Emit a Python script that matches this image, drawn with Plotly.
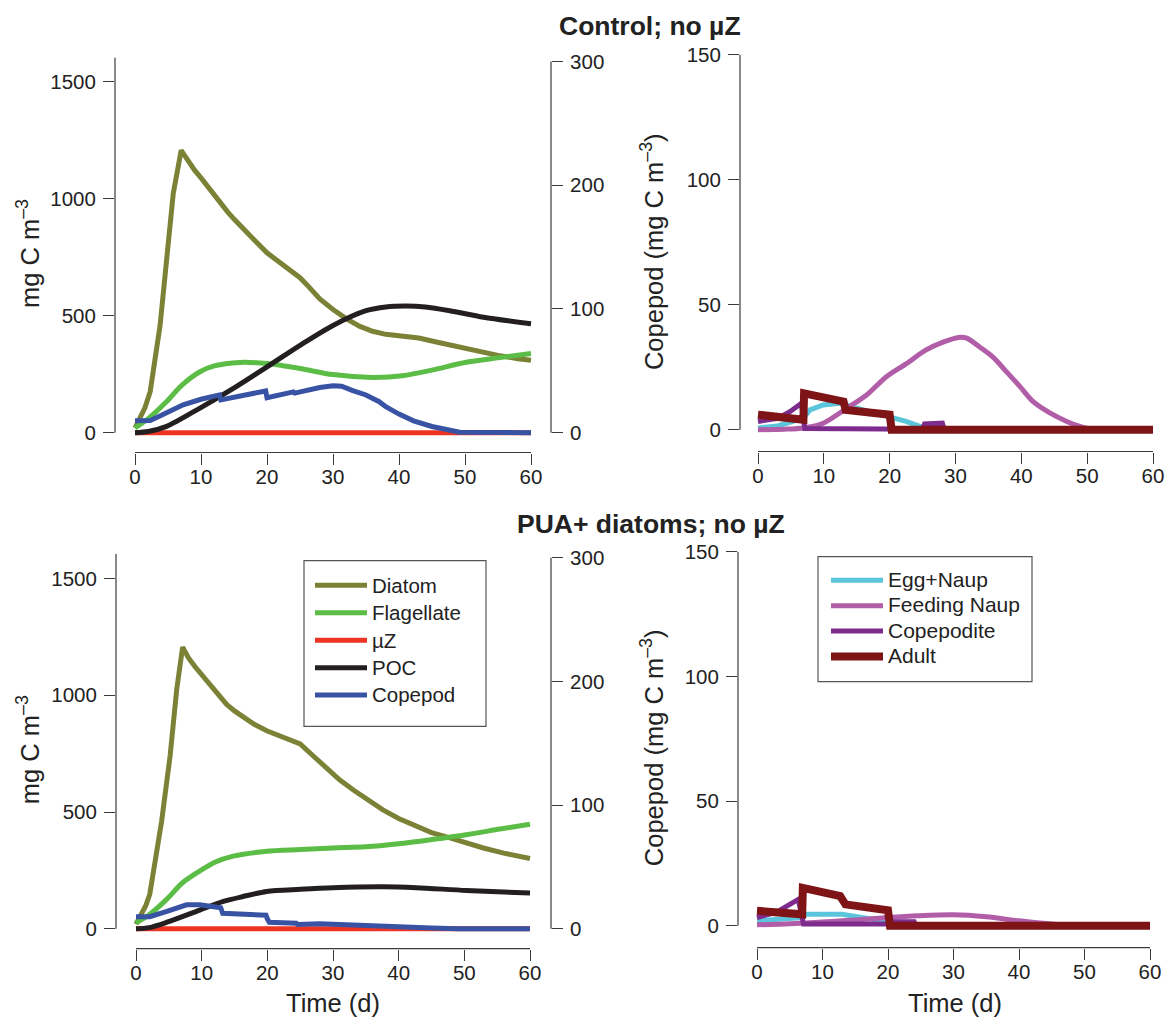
import plotly.graph_objects as go

# ---- data (time in days) ----
# Control; no uZ  -- bulk pools (mg C m-3), copepod total on the right axis
ctl_diatom_t = [0, 0.8, 1.5, 2.3, 3, 3.8, 4.8, 5.8, 7, 8, 9, 10, 11, 12, 13, 14, 15, 16, 18, 20, 22, 24,
                25, 26, 28, 30, 32, 34, 36, 38, 40, 43, 46, 49, 52, 55, 58, 60]
ctl_diatom = [20, 63, 106, 175, 300, 458, 741, 1022, 1206, 1162, 1122, 1088, 1050, 1012, 975, 944, 912, 881,
              825, 768, 725, 686, 662, 633, 571, 526, 487, 455, 433, 420, 413, 404, 385, 366, 348, 330, 316, 309]
ctl_flag_t = [0, 2, 4.8, 7, 9.85, 12, 15.9, 20, 25, 30, 36, 40.5, 45, 50, 55, 60]
ctl_flag = [20, 60, 133, 200, 260, 285, 300, 295, 274, 248, 236, 243, 267, 300, 320, 338]
ctl_uz_t = [0, 60]
ctl_uz = [0, 0]
ctl_poc_t = [0, 2, 4.8, 9.85, 14.9, 20, 25, 30, 35, 38, 41, 44, 47.7, 52.8, 60]
ctl_poc = [0, 5, 27, 105, 189, 281, 373, 458, 521, 537, 541, 537, 521, 493, 465]
ctl_cop_t = [0, 2.3, 4, 7.3, 10, 12.8, 13, 16, 19.8, 20, 24, 24.2, 27.8, 28, 30, 31.3, 33, 35, 37, 38, 40, 42.2, 45, 47, 49.2, 60]
ctl_cop = [9.6, 9.9, 14, 22.5, 27, 30.5, 26.5, 29.5, 33.7, 28.3, 33, 32, 37, 36.5, 38, 37.5, 34, 30.5, 25, 21, 15, 9.6, 5, 2.5, 0.3, 0]

# Control; no uZ  -- copepod stages (mg C m-3)
ctl_egg_t = [0, 3, 6.9, 7.9, 9.9, 12.4, 14, 17, 20, 22.5, 24.6, 26, 60]
ctl_egg = [0.7, 1.5, 4.6, 7.9, 9.9, 10.6, 9.3, 7.3, 5.3, 3.3, 1.3, 0, 0]
ctl_feed_t = [0, 4, 6.9, 9.9, 13.5, 16.5, 19.5, 22.6, 25.4, 28.1, 30.7, 31.7, 33.7, 35.7, 37.8, 39.8, 41.8, 44.4, 46.9, 48.9, 51, 60]
ctl_feed = [0, 0.2, 0.7, 2.6, 8.6, 13.9, 21.2, 26.5, 31.7, 35, 37, 36.6, 33, 29, 23, 17.2, 11.2, 6.6, 3.3, 1.3, 0, 0]
ctl_cpd_t = [0, 3, 4.9, 6.6, 7.1, 10, 20, 20.3, 25, 25.3, 28, 28.3, 60]
ctl_cpd = [3.3, 4.5, 7.3, 10.6, 0.5, 0.5, 0.5, 0.2, 0.2, 2.3, 2.6, 0, 0]
ctl_adult_t = [0, 6.9, 7, 13, 13.3, 20, 20.3, 60]
ctl_adult = [6, 4, 14.5, 11.2, 7.9, 6, 0, 0]

# PUA+ diatoms; no uZ  -- bulk pools
pua_diatom_t = [0, 0.8, 1.5, 2.1, 3, 3.9, 5.2, 6.2, 7.1, 8, 9, 10, 11, 12, 13.8, 15, 16.9, 18, 19.9, 22, 24,
                25, 27, 29, 31, 33.1, 35, 37.6, 40, 42.7, 45, 47.8, 50, 52.9, 56, 60]
pua_diatom = [20, 60, 100, 148, 290, 460, 742, 1025, 1206, 1160, 1122, 1088, 1055, 1025, 961, 933, 898, 876, 848,
              825, 803, 792, 740, 686, 638, 594, 556, 509, 472, 438, 412, 389, 370, 346, 324, 301]
pua_flag_t = [0, 2, 4.7, 7, 9.7, 12, 14.8, 19.9, 25, 30, 35, 40, 45, 50.3, 55.4, 60]
pua_flag = [25, 60, 127, 195, 247, 285, 311, 332, 339, 346, 351, 364, 382, 403, 427, 448]
pua_uz_t = [0, 60]
pua_uz = [0, 0]
pua_poc_t = [0, 2, 4.7, 9.7, 13.3, 16.3, 19.9, 25, 30, 37.6, 42.7, 50.3, 60]
pua_poc = [0, 5, 28, 80, 117, 138, 160, 169, 176, 180, 176, 164, 153]
pua_cop_t = [0, 2.1, 4.7, 7.7, 9.7, 12.3, 12.9, 13.2, 19.8, 20, 20.3, 24.4, 24.6, 28, 35, 40, 45, 49, 60]
pua_cop = [9.8, 9.8, 14, 19.4, 19.4, 17.8, 17, 12.5, 11, 8, 5.3, 4.5, 3.5, 4, 3, 1.4, 0.6, 0, 0]

# PUA+ diatoms; no uZ  -- copepod stages
pua_egg_t = [0, 3, 6.9, 7.5, 10, 13, 16, 19.9, 20.3, 60]
pua_egg = [2, 2.5, 3.3, 4.6, 4.6, 4.6, 3.3, 1.7, 0, 0]
pua_feed_t = [0, 5, 10, 13, 17, 20, 24.6, 30, 35, 40, 45, 48, 60]
pua_feed = [0.4, 0.8, 1.5, 2, 2.7, 3.3, 4, 4.4, 3.6, 2, 0.7, 0, 0]
pua_cpd_t = [0, 3, 6.3, 7.1, 20, 20.3, 24, 24.3, 60]
pua_cpd = [3.3, 5.5, 10.6, 0.7, 0.7, 1.6, 1.6, 0, 0]
pua_adult_t = [0, 6.9, 7, 12.7, 13.5, 20, 20.3, 60]
pua_adult = [6, 4.6, 15.2, 11.9, 8.6, 6.2, 0, 0]

time_ticks = [0, 10, 20, 30, 40, 50, 60]
left_ticks = [0, 500, 1000, 1500]
right_ticks = [0, 100, 200, 300]
stage_ticks = [0, 50, 100, 150]

# ---- styling ----
W, H = 1169, 1027
FONT = "Liberation Sans, Arial, Helvetica, sans-serif"
AX = "#3a3a3a"
C = dict(diatom="#7b8236", flag="#5bbd45", uz="#ee3524", poc="#231f20", cop="#3953a4",
         egg="#5bc5db", feed="#b15da8", cpd="#7d2c8e", adult="#7e1416")
SMOOTH = {"Flagellate", "POC", "Feeding Naup"}


def pxx(x):
    return x / W


def pxy(y):
    return 1 - y / H


def span(p_lo, p_hi, v0, p0, v1, p1):
    """axis range for a domain between pixels p_lo..p_hi, given two calibration points"""
    s = (p1 - p0) / (v1 - v0)
    return [v0 + (p_lo - p0) / s, v0 + (p_hi - p0) / s]


fig = go.Figure()


def add(t, v, name, color, xa, ya, width=5, legend=None, label_size=20.5):
    ln = dict(color=color, width=width)
    if name in SMOOTH:
        ln.update(shape="spline", smoothing=0.8)
    fig.add_trace(go.Scatter(
        x=t, y=v, mode="lines", xaxis=xa, yaxis=ya, line=ln,
        name=f'<span style="font-size:{label_size}px">{name}</span>',
        showlegend=legend is not None, legend=legend or "legend",
    ))


# top row
add(ctl_diatom_t, ctl_diatom, "Diatom", C["diatom"], "x", "y")
add(ctl_flag_t, ctl_flag, "Flagellate", C["flag"], "x", "y")
add(ctl_uz_t, ctl_uz, "µZ", C["uz"], "x", "y")
add(ctl_poc_t, ctl_poc, "POC", C["poc"], "x", "y")
add(ctl_cop_t, ctl_cop, "Copepod", C["cop"], "x", "y2")
add(ctl_egg_t, ctl_egg, "Egg+Naup", C["egg"], "x2", "y3")
add(ctl_feed_t, ctl_feed, "Feeding Naup", C["feed"], "x2", "y3")
add(ctl_cpd_t, ctl_cpd, "Copepodite", C["cpd"], "x2", "y3")
add(ctl_adult_t, ctl_adult, "Adult", C["adult"], "x2", "y3", width=8)

# bottom row (carries the legends)
add(pua_diatom_t, pua_diatom, "Diatom", C["diatom"], "x3", "y4", legend="legend")
add(pua_flag_t, pua_flag, "Flagellate", C["flag"], "x3", "y4", legend="legend")
add(pua_uz_t, pua_uz, "µZ", C["uz"], "x3", "y4", legend="legend")
add(pua_poc_t, pua_poc, "POC", C["poc"], "x3", "y4", legend="legend")
add(pua_cop_t, pua_cop, "Copepod", C["cop"], "x3", "y5", legend="legend")
add(pua_egg_t, pua_egg, "Egg+Naup", C["egg"], "x4", "y6", legend="legend2", label_size=21)
add(pua_feed_t, pua_feed, "Feeding Naup", C["feed"], "x4", "y6", legend="legend2", label_size=21)
add(pua_cpd_t, pua_cpd, "Copepodite", C["cpd"], "x4", "y6", legend="legend2", label_size=21)
add(pua_adult_t, pua_adult, "Adult", C["adult"], "x4", "y6", width=8, legend="legend2", label_size=21)

tick_font = dict(family=FONT, size=20.5, color="#222")
base = dict(showgrid=False, zeroline=False, showline=False, ticks="outside",
            ticklen=11, tickwidth=1.2, tickcolor=AX, tickfont=tick_font)


def xax(dom, rng, anchor):
    return dict(base, domain=[pxx(dom[0]), pxx(dom[1])], range=rng, anchor=anchor,
                tickvals=time_ticks, ticklabelstandoff=-5)


def yax(dom, rng, anchor, ticks, **kw):
    return dict(base, domain=[pxy(dom[0]), pxy(dom[1])], range=rng, anchor=anchor,
                tickvals=ticks, ticklabelstandoff=3, **kw)


# panel geometry in pixels: x-domain, y-domain (bottom, top)
TL = dict(xd=(115, 551), yd=(448, 50))
TR = dict(xd=(740, 1169), yd=(447, 40))
BL = dict(xd=(116, 551), yd=(948, 550))
BR = dict(xd=(738, 1169), yd=(947, 540))

fig.update_layout(
    xaxis=xax(TL["xd"], span(*TL["xd"], 0, 135, 60, 531), "y"),
    yaxis=yax(TL["yd"], span(*TL["yd"], 0, 428, 1500, 74), "x", left_ticks),
    yaxis2=yax(TL["yd"], span(*TL["yd"], 0, 428, 300, 54), "x", right_ticks,
               overlaying="y", side="right"),
    xaxis2=xax(TR["xd"], span(*TR["xd"], 0, 758, 60, 1153), "y3"),
    yaxis3=yax(TR["yd"], span(*TR["yd"], 0, 425, 150, 47), "x2", stage_ticks),
    xaxis3=xax(BL["xd"], span(*BL["xd"], 0, 136, 60, 530), "y4"),
    yaxis4=yax(BL["yd"], span(*BL["yd"], 0, 928, 1500, 575), "x3", left_ticks),
    yaxis5=yax(BL["yd"], span(*BL["yd"], 0, 928, 300, 554), "x3", right_ticks,
               overlaying="y4", side="right"),
    xaxis4=xax(BR["xd"], span(*BR["xd"], 0, 757, 60, 1150), "y6"),
    yaxis6=yax(BR["yd"], span(*BR["yd"], 0, 925, 150, 548), "x4", stage_ticks),
)

# R-style axis lines: only spanning the tick range
line = dict(color=AX, width=1.2)
shapes = []
for xa, ya in (("x", "yaxis"), ("x3", "yaxis4")):
    top = fig.layout[ya].range[1]
    shapes.append(dict(type="line", xref=xa + " domain", yref=ya.replace("axis", ""),
                       x0=0, x1=0, y0=0, y1=top, line=line))
for xa, ya in (("x", "y2"), ("x3", "y5")):
    shapes.append(dict(type="line", xref=xa + " domain", yref=ya, x0=1, x1=1, y0=0, y1=300, line=line))
for xa, ya in (("x2", "y3"), ("x4", "y6")):
    shapes.append(dict(type="line", xref=xa + " domain", yref=ya, x0=0, x1=0, y0=0, y1=150, line=line))
for xa, ya in (("x", "y"), ("x2", "y3"), ("x3", "y4"), ("x4", "y6")):
    shapes.append(dict(type="line", xref=xa, yref=ya + " domain", x0=0, x1=60, y0=0, y1=0, line=line))
# legend frames
for x0, y0, x1, y1 in ((304, 557, 486, 724), (818, 553, 1032, 679)):
    shapes.append(dict(type="rect", xref="paper", yref="paper", layer="above",
                       x0=pxx(x0), x1=pxx(x1), y0=pxy(y1), y1=pxy(y0),
                       fillcolor="white", line=dict(color="#555", width=1.2)))
fig.update_layout(shapes=shapes)

lab = dict(family=FONT, size=25.5, color="#222")
ann = []
for cy in (248, 748):
    ann.append(dict(text="mg C m<sup>–3</sup>", x=pxx(28), y=pxy(cy), textangle=-90))
for cy in (246, 746):
    ann.append(dict(text="Copepod (mg C m<sup>–3</sup>)", x=pxx(652), y=pxy(cy), textangle=-90))
for cx in (333, 955):
    ann.append(dict(text="Time (d)", x=pxx(cx), y=pxy(1003)))
ann.append(dict(text="<b>Control; no µZ</b>", x=pxx(650), y=pxy(18), font=dict(lab, size=26.5)))
ann.append(dict(text="<b>PUA+ diatoms; no µZ</b>", x=pxx(651), y=pxy(520), font=dict(lab, size=26.5)))
for a in ann:
    a.setdefault("font", lab)
    a.update(xref="paper", yref="paper", showarrow=False, xanchor="center", yanchor="middle")
fig.update_layout(annotations=ann)

leg = dict(bgcolor="rgba(0,0,0,0)", borderwidth=0, xanchor="left", yanchor="top",
           tracegroupgap=0, itemwidth=52)
fig.update_layout(
    legend=dict(leg, x=pxx(310), y=pxy(563), font=dict(family=FONT, size=18.8, color="#222")),
    legend2=dict(leg, x=pxx(826), y=pxy(559), font=dict(family=FONT, size=17.2, color="#222")),
    width=W, height=H, margin=dict(l=0, r=0, t=0, b=0),
    paper_bgcolor="white", plot_bgcolor="white",
    font=dict(family=FONT, color="#222"),
)

fig.write_html("out.html", config={"displayModeBar": False},
               post_script="document.body.style.margin='0';")
